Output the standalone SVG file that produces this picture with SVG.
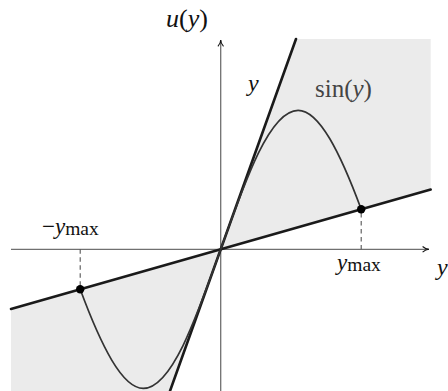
<svg xmlns="http://www.w3.org/2000/svg" width="448" height="391" viewBox="0 0 448 391">
<style>
text{font-family:"Liberation Serif","Times New Roman",serif;fill:#111}
.it{font-style:italic}
.shade{fill:#ebebeb;stroke:none}
.axis{stroke:#707070;stroke-width:1.3;fill:none}
.bound{stroke:#1a1a1a;stroke-width:2.6;fill:none;stroke-linecap:round}
.sine{stroke:#333;stroke-width:1.7;fill:none}
.dash{stroke:#555;stroke-width:1.1;stroke-dasharray:4.5 3.5;fill:none}
</style>
<defs>
<marker id="arr" viewBox="0 0 10 10" refX="9" refY="5" markerWidth="8" markerHeight="8" markerUnits="userSpaceOnUse" orient="auto">
<path d="M1,1.5 Q5,5 9,5 Q5,5 1,8.5" fill="none" stroke="#111" stroke-width="1.3"/>
</marker>
</defs>
<g id="shading">
<polygon class="shade" points="220.7,249.3 296,39 430.7,39 430.7,189.6"/>
<polygon class="shade" points="220.7,249.3 11,308.9 11,391 170,391"/>
</g>
<g id="connectors">
<line class="axis" x1="11" y1="249.3" x2="429" y2="249.3" marker-end="url(#arr)"/>
<line class="axis" x1="220.7" y1="391" x2="220.7" y2="40" marker-end="url(#arr)"/>
<line class="dash" x1="361.2" y1="213" x2="361.2" y2="249.3"/>
<line class="dash" x1="80.2" y1="249.3" x2="80.2" y2="286"/>
</g>
<g id="line-y">
<line class="bound" x1="296" y1="39" x2="170" y2="391"/>
</g>
<g id="line-k">
<line class="bound" x1="11" y1="308.9" x2="430.7" y2="189.6"/>
</g>
<g id="sine">
<path class="sine" d="M220.7,249.3 C245.96,178.09 270.11,110.3 298.14,110.3 C319.16,110.3 340.18,152.57 361.2,209.3"/>
<path class="sine" d="M220.7,249.3 C195.44,320.51 171.29,388.3 143.26,388.3 C122.24,388.3 101.22,346.03 80.2,289.3"/>
</g>
<g id="dots">
<circle cx="361.2" cy="209.3" r="4.2" fill="#000"/>
<circle cx="80.2" cy="289.3" r="4.2" fill="#000"/>
</g>
<g id="labels">
<text x="166" y="26.5" font-size="26" font-family="Liberation Serif, serif"><tspan class="it">u</tspan>(<tspan class="it">y</tspan>)</text>
<text x="248" y="91" font-size="24" class="it" font-family="Liberation Serif, serif">y</text>
<text x="315" y="96.5" font-size="25" style="fill:#444" font-family="Liberation Serif, serif">sin(<tspan class="it">y</tspan>)</text>
<text x="337" y="270" font-size="23" font-family="Liberation Serif, serif"><tspan class="it">y</tspan><tspan font-size="19.5" dy="1">max</tspan></text>
<text x="42" y="234" font-size="23" font-family="Liberation Serif, serif">−<tspan class="it">y</tspan><tspan font-size="19.5" dy="1">max</tspan></text>
<text x="437" y="275" font-size="24" class="it" font-family="Liberation Serif, serif">y</text>
</g>
</svg>
